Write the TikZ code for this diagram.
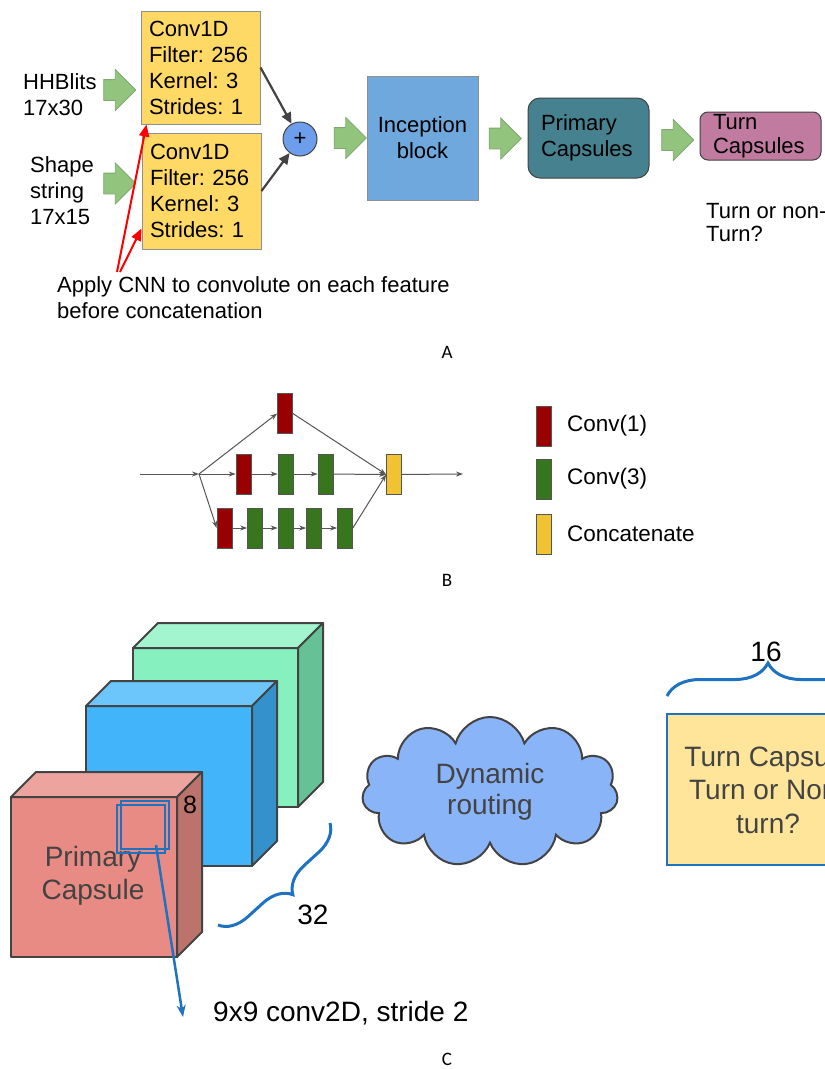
\documentclass[tikz,border=0pt]{standalone}
\usepackage{fontspec}
\setmainfont{Liberation Sans}
\newfontfamily\lblfont{Carlito}
\usetikzlibrary{arrows.meta,positioning,shapes.arrows,shapes.symbols,decorations.pathreplacing}

\definecolor{convyel}{HTML}{FFD966}
\definecolor{boxgray}{HTML}{8F8F8F}
\definecolor{ggreen}{HTML}{93C47D}
\definecolor{gedge}{HTML}{7FA86E}
\definecolor{plusblue}{HTML}{6D9EEB}
\definecolor{darkarr}{HTML}{434343}
\definecolor{incblue}{HTML}{6FA8DC}
\definecolor{primteal}{HTML}{45818E}
\definecolor{turnpink}{HTML}{C27BA0}
\definecolor{c1red}{HTML}{990000}
\definecolor{c3green}{HTML}{38761D}
\definecolor{catyel}{HTML}{F1C232}
\definecolor{flowgray}{HTML}{555555}
\definecolor{braceblue}{HTML}{1F72C0}
\definecolor{cloudblue}{HTML}{8AB4F8}
\definecolor{tcapyel}{HTML}{FFE599}
% cube faces
\definecolor{mintfront}{HTML}{86F0BE}
\definecolor{minttop}{HTML}{A2F5CF}
\definecolor{mintside}{HTML}{66C296}
\definecolor{skyfront}{HTML}{42B4FA}
\definecolor{skytop}{HTML}{6CC6FB}
\definecolor{skyside}{HTML}{3591CC}
\definecolor{rosefront}{HTML}{E88B84}
\definecolor{rosetop}{HTML}{EDA49E}
\definecolor{roseside}{HTML}{BB736C}

\newcommand{\sizeA}{\fontsize{22}{26}\selectfont}
\newcommand{\sizeB}{\fontsize{22.5}{27}\selectfont}
\newcommand{\sizeC}{\fontsize{28}{33}\selectfont}

% x y w h d front top side
\newcommand{\capcube}[8]{%
  \filldraw[cubeline,fill=#6] (#1,#2) rectangle ++(#3,#4);
  \filldraw[cubeline,fill=#7] (#1,#2) -- (#1+#5,#2-#5) -- (#1+#3+#5,#2-#5) -- (#1+#3,#2) -- cycle;
  \filldraw[cubeline,fill=#8] (#1+#3,#2) -- (#1+#3+#5,#2-#5) -- (#1+#3+#5,#2+#4-#5) -- (#1+#3,#2+#4) -- cycle;
}

\begin{document}
\frenchspacing
\begin{tikzpicture}[x=1pt,y=-1pt,every node/.style={inner sep=0pt},
  convbox/.style={draw=boxgray,fill=convyel,line width=1,minimum width=119,minimum height=113,text width=103,inner xsep=8,align=left,font=\sizeA},
  garrow/.style={single arrow,draw=gedge,fill=ggreen,line width=0.8,inner xsep=0pt,inner ysep=10pt,minimum height=32,single arrow head extend=10pt},
  sumarrow/.style={draw=darkarr,line width=2.2,-{Triangle[length=11pt,width=10pt]}},
  cnnarrow/.style={draw=red,line width=2,-{Triangle[length=12pt,width=10pt]}},
  layer/.style={draw=flowgray,line width=0.7,minimum width=15,minimum height=40},
  flow/.style={draw=flowgray,line width=1,-{Stealth[length=7pt,width=5pt]}},
  cubeline/.style={draw=darkarr,line width=2,line join=round},
  bluebrace/.style={draw=braceblue,line width=3,decorate,decoration={brace,amplitude=#1}},
  lbl/.style={font=\lblfont\fontsize{19}{19}\selectfont}]

  \clip (0,0) rectangle (825,1069);
  \fill[white] (0,0) rectangle (825,1069);

  % ---------- A ----------
  \node[convbox] (c1) at (200.5,67.5) {Conv1D\\Filter: 256\\Kernel: 3\\Strides: 1};
  \node[convbox,minimum height=116] (c2) at (201.5,191) {Conv1D\\Filter: 256\\Kernel: 3\\Strides: 1};
  \node[anchor=west,align=left,font=\sizeA] (hhb) at (23,95) {HHBlits\\17x30};
  \node[anchor=west,align=left,font=\sizeA] (shp) at (30,191) {Shape\\string\\17x15};
  \node[garrow] (g1) at (114.5,90) {};
  \node[garrow] (g2) at (114.5,183.5) {};
  \node[circle,draw=darkarr,fill=plusblue,line width=1,minimum size=34,font=\sizeA] (plus) at (300,139) {+};
  \node[garrow] (g3) at (345,138) {};
  \node[draw=boxgray,fill=incblue,line width=1,minimum width=111,minimum height=124,align=center,font=\sizeA] (inc) at (422.5,138) {Inception\\block};
  \node[garrow] (g4) at (500,138.5) {};
  \node[draw=darkarr,fill=primteal,rounded corners=12,line width=1,minimum width=121,minimum height=80,text width=95,inner xsep=13,align=left,font=\sizeA] (prim) at (588.5,138) {Primary\\Capsules};
  \node[garrow] (g5) at (672.5,140) {};
  \node[draw=darkarr,fill=turnpink,rounded corners=8,line width=1,minimum width=121,minimum height=48,text width=95,inner xsep=13,align=left,font=\fontsize{22}{24}\selectfont] (turn) at (760.5,136) {Turn\\Capsules};
  \node[anchor=west,align=left,font=\fontsize{22}{23}\selectfont] (tnt) at (706,223) {Turn or non-\\Turn?};
  \node[anchor=west,align=left,font=\sizeA] (note) at (57,297.5) {Apply CNN to convolute on each feature\\before concatenation};
  \coordinate (cnn1) at (117,272);
  \coordinate (cnn2) at (120,272);

  \draw[sumarrow] (c1.east) -- (plus);
  \draw[sumarrow] (c2.east) -- (plus);
  \draw[cnnarrow] (cnn1) -- ([xshift=6pt]c1.south west);
  \draw[cnnarrow] (cnn2) -- ([yshift=21pt]c2.south west);

  \node[lbl] (labA) at (447,352) {A};

  % ---------- B ----------
  \coordinate (bin) at (140,474);
  \coordinate (split) at (199,474);
  \coordinate (bout) at (463,474);
  \node[layer,fill=c1red] (r0) at (285,413.5) {};
  \node[layer,fill=c1red] (r1) at (243.5,474) {};
  \node[layer,fill=c3green] (m1) at (285.5,474) {};
  \node[layer,fill=c3green] (m2) at (325.5,474) {};
  \node[layer,fill=catyel] (cat) at (394,474.5) {};
  \node[layer,fill=c1red] (r2) at (224.5,528) {};
  \node[layer,fill=c3green] (b1) at (255,528) {};
  \node[layer,fill=c3green] (b2) at (285.5,528) {};
  \node[layer,fill=c3green] (b3) at (314,528) {};
  \node[layer,fill=c3green] (b4) at (345,528) {};

  \draw[flow] (bin) -- (split);
  \draw[flow] (split) -- (r0.west);
  \draw[flow] (split) -- (r1.west);
  \draw[flow] (split) -- (r2.west);
  \draw[flow] (r1) -- (m1);
  \draw[flow] (m1) -- (m2);
  \draw[flow] (r2) -- (b1);
  \draw[flow] (b1) -- (b2);
  \draw[flow] (b2) -- (b3);
  \draw[flow] (b3) -- (b4);
  \draw[flow] (r0.east) -- (cat.west);
  \draw[flow] (m2) -- (cat.west);
  \draw[flow] (b4.east) -- (cat.west);
  \draw[flow] (cat) -- (bout);

  \node[layer,fill=c1red] (lr) at (544,426) {};
  \node[layer,fill=c3green] (lg) at (544,479) {};
  \node[layer,fill=catyel] (ly) at (544,534) {};
  \node[right=15pt of lr,font=\sizeB] (tlr) {Conv(1)};
  \node[right=15pt of lg,font=\sizeB] (tlg) {Conv(3)};
  \node[right=15pt of ly,font=\sizeB] (tly) {Concatenate};

  \node[lbl] (labB) at (447,580) {B};

  % ---------- C ----------
  \capcube{133}{648}{165}{159}{25}{mintfront}{minttop}{mintside}
  \capcube{86}{706}{166}{160}{25}{skyfront}{skytop}{skyside}
  \capcube{11}{797}{166}{160}{25}{rosefront}{rosetop}{roseside}

  \node[align=center,font=\sizeC,text=darkarr] (pcap) at (93,876) {Primary\\Capsule};
  \node[draw=braceblue,line width=2,minimum size=48] (winb) at (145,825) {};
  \node[draw=braceblue,line width=2,minimum size=48] (win) at (141,829) {};
  \node[font=\fontsize{25}{25}\selectfont] (eight) at (190,805) {8};
  \node[anchor=west,font=\sizeC] (convtxt) at (213,1013) {9x9 conv2D, stride 2};
  \draw[draw=braceblue,line width=2.5,-{Stealth[length=12pt,width=9pt]}] ([xshift=15pt,yshift=-16pt]win.center) -- ([xshift=-30pt,yshift=-4pt]convtxt.west);

  \draw[bluebrace=28] (330,823) -- (218,925);
  \node[font=\sizeC] (n32) at (313,915) {32};

  \node[cloud,cloud puffs=11,aspect=1.7,draw=darkarr,fill=cloudblue,line width=2,minimum width=256,minimum height=150,align=center,font=\fontsize{28}{31}\selectfont,text=darkarr] (route) at (490,792) {Dynamic\\routing};

  \node[draw=braceblue,fill=tcapyel,line width=2.5,minimum width=202,minimum height=151,align=center,font=\fontsize{28}{33.5}\selectfont,text=darkarr] (tcap) at (768,789.5) {Turn Capsule\\Turn or Non-\\turn?};
  \draw[bluebrace=33] (667,696) -- (869,696);
  \node[font=\sizeC] (n16) at (766,652) {16};

  \node[lbl] (labC) at (447,1059) {C};
\end{tikzpicture}
\end{document}
